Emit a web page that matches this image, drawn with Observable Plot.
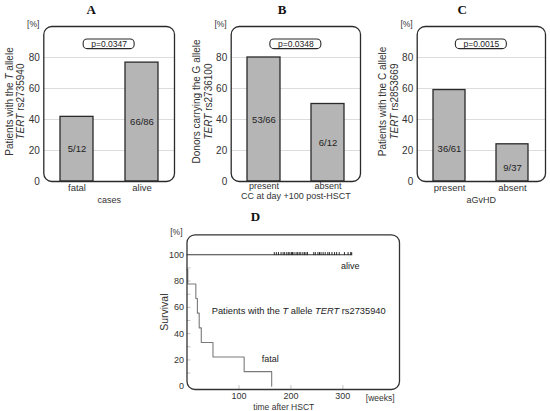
<!DOCTYPE html>
<html>
<head>
<meta charset="utf-8">
<script src="https://cdn.jsdelivr.net/npm/d3@7"></script>
<script src="https://cdn.jsdelivr.net/npm/@observablehq/plot@0.6"></script>
<style>
  html, body { margin: 0; padding: 0; background: #fff; }
  #wrap { position: relative; width: 550px; height: 411px; overflow: hidden; background: #fff; }
  #wrap svg { position: absolute; }
</style>
</head>
<body>
<div id="wrap"></div>
<script>
// ---------------- data ----------------
const barTicks = [0, 20, 40, 60, 80];
const barGrid = [20, 40, 60, 80];

const catsA = ["fatal", "alive"];
const pctA = [41.7, 76.7];
const fracA = ["5/12", "66/86"];
const pA = "p=0.0347";

const catsB = ["present", "absent"];
const pctB = [80.0, 50.0];
const fracB = ["53/66", "6/12"];
const pB = "p=0.0348";

const catsC = ["present", "absent"];
const pctC = [59.0, 24.0];
const fracC = ["36/61", "9/37"];
const pC = "p=0.0015";

// survival (panel D)
const fatalWeeks = [0, 1.5, 17, 20, 23.5, 27.5, 50, 110, 163];
const fatalSurv  = [88.9, 77.8, 66.7, 55.6, 44.4, 33.3, 22.2, 11.1, 0];
const aliveWeeks = [0, 317];
const aliveSurv  = [100, 100];
const censorWeeks = [168, 172, 176, 181, 185, 188, 192, 195, 198, 201, 203, 206, 210, 213, 216,
  219, 223, 226, 229, 232, 244, 247, 252, 255, 258, 262, 266, 271, 274, 279, 284, 288, 293,
  303, 310, 315, 317];
const dTicksX = [100, 200, 300];
const dTicksY = [0, 20, 40, 60, 80, 100];
const dMinorY = [10, 20, 30, 40, 50, 60, 70, 80, 90];

// ---------------- helpers ----------------
const FONT = "'Liberation Sans', Arial, Helvetica, sans-serif";
const SERIF = "'Liberation Serif', 'Times New Roman', serif";
const INK = "#333";

function italicize(svg) {
  svg.querySelectorAll("text, tspan").forEach(el => {
    if (el.childElementCount) return;
    const s = el.textContent;
    if (/allele|TERT/.test(s)) {
      el.innerHTML = s.replace(/\b(TERT|T)\b/g, '<tspan font-style="italic">$1</tspan>');
    }
  });
}

function place(svg, left, top) {
  svg.style.left = left + "px";
  svg.style.top = top + "px";
  document.getElementById("wrap").appendChild(svg);
}

function barPanel(cfg) {
  const rows = cfg.cats.map((c, i) => ({cat: c, value: cfg.values[i], label: cfg.labels[i]}));
  const fw = cfg.width - cfg.ml - cfg.mr;
  const boxW = 51;
  const svg = Plot.plot({
    width: cfg.width,
    height: 210,
    marginLeft: cfg.ml,
    marginRight: cfg.mr,
    marginTop: 26,
    marginBottom: 29,
    style: {fontFamily: FONT, fontSize: "9px", background: "transparent", overflow: "visible", color: INK},
    x: {domain: cfg.cats, paddingInner: 0.49, paddingOuter: 0.25},
    y: {domain: [0, 100]},
    marks: [
      Plot.gridY(barGrid, {stroke: "#dcdcdc", strokeOpacity: 1, strokeWidth: 1}),
      Plot.barY(rows, {x: "cat", y: "value", fill: "#b5b5b5", stroke: "#2a2a2a", strokeWidth: 1.3}),
      Plot.text(rows, {x: "cat", y: d => d.value * cfg.labelFrac, text: "label", fontSize: 9.5, fill: "#222"}),
      Plot.rect([cfg.p], {y1: [85.4], y2: [91.6], insetLeft: (fw - boxW) / 2, insetRight: (fw - boxW) / 2,
        rx: 4, fill: "white", stroke: "#2a2a2a", strokeWidth: 1.1}),
      Plot.text([cfg.p], {y: [88.6], text: d => d, fontSize: 8.5, fill: "#222"}),
      Plot.frame({rx: 8, ry: 8, stroke: "#2a2a2a", strokeWidth: 1.3}),
      Plot.axisY({ticks: barTicks, tickSize: 0, tickPadding: 4, fontSize: 10, label: null, color: INK}),
      Plot.axisX({tickSize: 0, tickPadding: cfg.xPad, fontSize: cfg.xFont, label: null, color: INK}),
      Plot.text([cfg.xTitle], {frameAnchor: "bottom", dy: cfg.xTitleDy, lineAnchor: "middle", fontSize: 9, fill: INK}),
      Plot.text(["[%]"], {frameAnchor: "top-left", textAnchor: "end", lineAnchor: "middle", dx: -4.5, dy: -1.8, fontSize: 8.5, fill: INK}),
      Plot.text([cfg.yTitle], {frameAnchor: "left", textAnchor: "middle", rotate: -90, dx: -29, dy: -2.5,
        lineAnchor: "middle", lineHeight: 1.17, fontSize: 10, fill: INK}),
      Plot.text([cfg.letter], {frameAnchor: "top", dx: cfg.titleDx, dy: -16.7, lineAnchor: "middle",
        fontFamily: SERIF, fontWeight: "bold", fontSize: 13, fill: "#111"})
    ]
  });
  italicize(svg);
  place(svg, cfg.left, 0);
}

barPanel({letter: "A", cats: catsA, values: pctA, labels: fracA, p: pA,
  xTitle: "cases", yTitle: "Patients with the T allele\nTERT rs2735940",
  left: 0, width: 180, ml: 43.3, mr: 6, titleDx: -18, xTitleDy: 18.3, labelFrac: 0.5, xPad: 3, xFont: 9.5});
barPanel({letter: "B", cats: catsB, values: pctB, labels: fracB, p: pB,
  xTitle: "CC at day +100 post-HSCT", yTitle: "Donors carrying the G allele\nTERT rs2736100",
  left: 180, width: 185, ml: 50.7, mr: 5, titleDx: -13.7, xTitleDy: 14.5, labelFrac: 0.5, xPad: 1, xFont: 9});
barPanel({letter: "C", cats: catsC, values: pctC, labels: fracC, p: pC,
  xTitle: "aGvHD", yTitle: "Patients with the C allele\nTERT rs2853669",
  left: 365, width: 185, ml: 51.7, mr: 5, titleDx: -19.2, xTitleDy: 18.3, labelFrac: 0.36, xPad: 3, xFont: 9.5});

// ---------------- panel D ----------------
(function () {
  const fatal = fatalWeeks.map((w, i) => ({w, s: fatalSurv[i]}));
  const alive = aliveWeeks.map((w, i) => ({w, s: aliveSurv[i]}));
  const W = 280, H = 201, ml = 46.5, mr = 21, mt = 24.3, mb = 22;
  const fw = W - ml - mr, fh = H - mt - mb;
  const svg = Plot.plot({
    width: W, height: H,
    marginLeft: ml, marginRight: mr, marginTop: mt, marginBottom: mb,
    style: {fontFamily: FONT, fontSize: "9px", background: "transparent", overflow: "visible", color: INK},
    x: {domain: [0, 409]},
    y: {domain: [-2.5, 115.2]},
    marks: [
      Plot.ruleY(dMinorY, {stroke: "#c4c4c4", insetRight: fw - 4}),
      Plot.ruleX(dTicksX, {stroke: "#c4c4c4", insetTop: fh - 4}),
      Plot.line(fatal, {x: "w", y: "s", curve: "step-after", stroke: "#7a7a7a", strokeWidth: 1.1}),
      Plot.line(alive, {x: "w", y: "s", stroke: "#3a3a3a", strokeWidth: 1.1}),
      Plot.ruleX(censorWeeks, {x: d => d, y1: () => aliveSurv[0], y2: () => aliveSurv[0],
        insetTop: -2.2, insetBottom: -0.8, stroke: "#2a2a2a", strokeWidth: 1}),
      Plot.frame({rx: 8, ry: 8, stroke: "#333", strokeWidth: 1.3}),
      Plot.axisY({ticks: dTicksY, tickSize: 0, tickPadding: 3, fontSize: 9, label: null, color: INK}),
      Plot.axisX({ticks: dTicksX, tickSize: 0, tickPadding: 3.5, fontSize: 9, label: null, color: INK}),
      Plot.text(["Patients with the T allele TERT rs2735940"], {x: [215], y: [57], fontSize: 9.3, fill: "#222"}),
      Plot.text(["alive"], {x: [314], y: [91], fontSize: 9, fill: "#222"}),
      Plot.text(["fatal"], {x: [160], y: [21], fontSize: 9, fill: "#222"}),
      Plot.text(["[weeks]"], {x: [372], frameAnchor: "bottom", dy: 8.5, lineAnchor: "middle", fontSize: 8.5, fill: INK}),
      Plot.text(["time after HSCT"], {frameAnchor: "bottom", dx: -9.5, dy: 18, lineAnchor: "middle", fontSize: 8.5, fill: INK}),
      Plot.text(["[%]"], {frameAnchor: "top-left", textAnchor: "end", lineAnchor: "middle", dx: -4.5, dy: -2.6, fontSize: 8.5, fill: INK}),
      Plot.text(["Survival"], {frameAnchor: "left", textAnchor: "middle", rotate: -90, dx: -22.5, lineAnchor: "middle", fontSize: 10.5, fill: INK}),
      Plot.text(["D"], {frameAnchor: "top", dx: -37.7, dy: -18.3, lineAnchor: "middle",
        fontFamily: SERIF, fontWeight: "bold", fontSize: 13, fill: "#111"})
    ]
  });
  italicize(svg);
  place(svg, 140, 210);
})();
</script>
</body>
</html>
